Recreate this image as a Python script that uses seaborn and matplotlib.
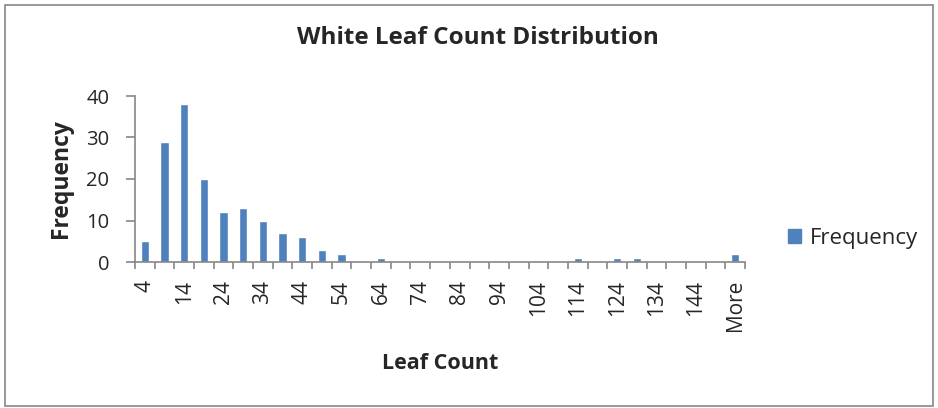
import numpy as np
import pandas as pd
import matplotlib
matplotlib.use("Agg")
import matplotlib.pyplot as plt
import seaborn as sns
from matplotlib.patches import Rectangle, Patch

# histogram bins (upper edges) and counts
bins = [str(b) for b in range(4, 150, 5)] + ["More"]
counts = [5, 29, 38, 20, 12, 13, 10, 7, 6, 3, 2, 0, 1, 0, 0,
          0, 0, 0, 0, 0, 0, 0, 1, 0, 1, 1, 0, 0, 0, 0, 2]
yticks = [0, 10, 20, 30, 40]

sns.set_style("white")
plt.rcParams["font.family"] = ["Open Sans", "DejaVu Sans"]

BLUE = "#4F81BD"
GREY = "#868686"

df = pd.DataFrame({"bin": bins, "Frequency": counts})

fig = plt.figure(figsize=(9.38, 4.08), dpi=100)
ax = fig.add_axes([135 / 938, 1 - 262 / 408, 610 / 938, 166 / 408])

sns.barplot(data=df, x="bin", y="Frequency", color=BLUE, width=0.42,
            saturation=1, ax=ax)

ax.set_xlim(-0.5, len(bins) - 0.5)
ax.set_ylim(0, 40)
ax.set_yticks(yticks)
ax.tick_params(axis="y", left=True, labelsize=14.5, length=6.5, color=GREY,
               width=1.2, pad=12)

# labels on every other category, tick marks between categories
ax.set_xticks(range(0, len(bins), 2))
ax.set_xticklabels(bins[::2], rotation=90, fontsize=15)
ax.tick_params(axis="x", which="major", length=0, pad=13)
ax.set_xticks(np.arange(-0.5, len(bins)), minor=True)
ax.tick_params(axis="x", which="minor", bottom=True, length=5, color=GREY, width=1.2)

for s in ["top", "right"]:
    ax.spines[s].set_visible(False)
for s in ["left", "bottom"]:
    ax.spines[s].set_color(GREY)
    ax.spines[s].set_linewidth(1.2)

ax.set_xlabel("Leaf Count", fontsize=15.5, fontweight="bold")
ax.xaxis.set_label_coords(0.5, (262 - 353) / 166)
ax.set_ylabel("Frequency", fontsize=16.5, fontweight="bold")
ax.yaxis.set_label_coords((73 - 135) / 610, 0.5)
fig.text(478 / 938, 1 - 38 / 408, "White Leaf Count Distribution",
         ha="center", va="center", fontsize=17.5, fontweight="bold")

fig.legend(handles=[Patch(color=BLUE, label="Frequency")], loc="center left",
           bbox_to_anchor=(768 / 938, 1 - 238 / 408), frameon=False,
           fontsize=16, handlelength=0.6, handleheight=0.6, handletextpad=0.4)

# chart-area border
fig.patches.append(Rectangle((0.005, 0.006), 0.99, 0.982, transform=fig.transFigure,
                             fill=False, edgecolor=GREY, linewidth=1.2))

fig.savefig("out.png", dpi=100)
